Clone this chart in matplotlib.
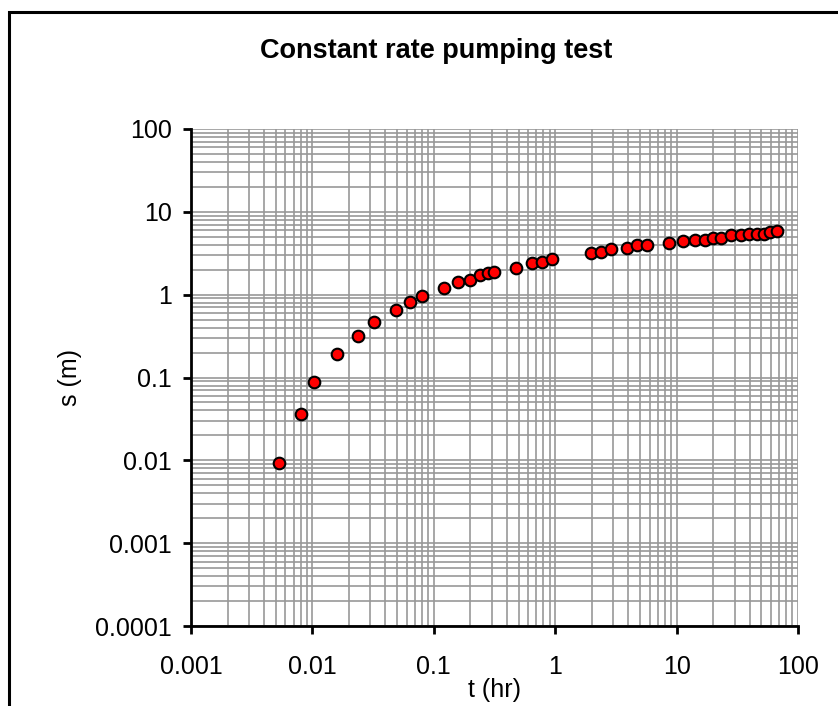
import matplotlib
matplotlib.use('Agg')
import matplotlib.pyplot as plt
from matplotlib.ticker import LogLocator, FuncFormatter, NullFormatter
from matplotlib.patches import Rectangle

plt.rcParams['font.family'] = ['Liberation Sans', 'DejaVu Sans']

# Pumping test data: time (hr) and drawdown (m)
t_hr = [0.00527, 0.00806, 0.0104, 0.016, 0.0236, 0.032, 0.0489, 0.0633, 0.0794,
        0.121, 0.158, 0.199, 0.240, 0.281, 0.313,
        0.475, 0.644, 0.783, 0.947,
        1.96, 2.38, 2.90, 3.88, 4.69, 5.70,
        8.71, 11.2, 14.3, 17.1, 20.0, 23.4, 28.2, 34.1, 39.7, 45.9, 52.5, 58.8, 67.5]
s_m = [0.0094, 0.036, 0.089, 0.19, 0.317, 0.47, 0.65, 0.82, 0.97,
       1.21, 1.43, 1.52, 1.71, 1.81, 1.89,
       2.12, 2.39, 2.50, 2.67,
       3.16, 3.30, 3.53, 3.69, 3.94, 3.94,
       4.17, 4.41, 4.61, 4.61, 4.88, 4.88, 5.21, 5.21, 5.45, 5.45, 5.45, 5.70, 5.82]

fig = plt.figure(figsize=(8.38, 7.06), dpi=100)
ax = fig.add_axes([191 / 838, 1 - 626 / 706, 607 / 838, 497 / 706])

# outer chart border (cut off at right and bottom like the original)
fig.patches.append(Rectangle((8.5 / 838, -0.1), 1.2, 1 - 11.5 / 706 + 0.1,
                             transform=fig.transFigure, fill=False,
                             edgecolor='black', linewidth=2.2))

ax.scatter(t_hr, s_m, s=70, facecolor='#ff0000', edgecolor='black',
           linewidth=1.5, zorder=3, clip_on=False)

ax.set_xscale('log')
ax.set_yscale('log')
ax.set_xlim(0.001, 100)
ax.set_ylim(0.0001, 100)

fmt = FuncFormatter(lambda v, p: '%g' % v)
for axis in (ax.xaxis, ax.yaxis):
    axis.set_major_locator(LogLocator(base=10, numticks=20))
    axis.set_minor_locator(LogLocator(base=10, subs=range(2, 10), numticks=20))
    axis.set_major_formatter(fmt)
    axis.set_minor_formatter(NullFormatter())

ax.grid(True, which='both', color='#989898', linewidth=1.2)
ax.set_axisbelow(True)

for side in ('top', 'right'):
    ax.spines[side].set_visible(False)
for side in ('left', 'bottom'):
    ax.spines[side].set_linewidth(2)
    ax.spines[side].set_zorder(4)

ax.tick_params(which='major', direction='out', length=6, width=2, labelsize=18)
ax.tick_params(axis='x', which='major', pad=15)
ax.tick_params(axis='y', which='major', pad=8)
ax.tick_params(which='minor', length=0)

ax.set_xlabel('t (hr)', fontsize=18)
ax.set_ylabel('s (m)', fontsize=18)
ax.xaxis.set_label_coords(0.5, -0.105)
ax.yaxis.set_label_coords(-0.18, 0.5)

fig.text(436 / 838, 1 - 58 / 706, 'Constant rate pumping test', ha='center',
         va='baseline', fontsize=19.5, fontweight='bold')

fig.savefig('out.png', dpi=100)
